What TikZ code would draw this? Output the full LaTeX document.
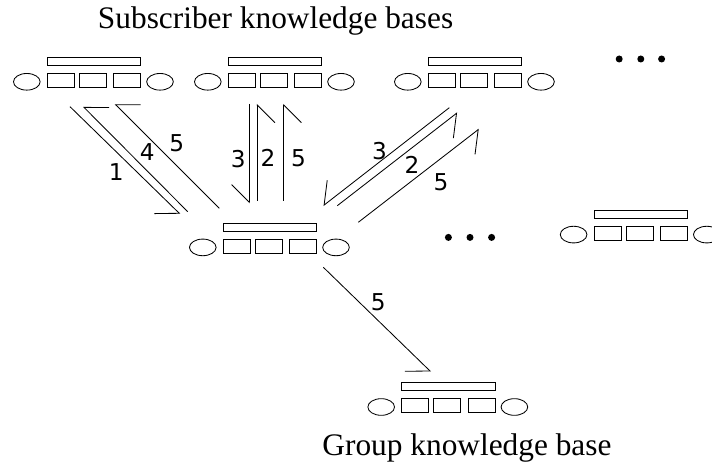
\documentclass[tikz,border=0pt]{standalone}
\usepackage{fontspec}
\usepackage{tikz}
\usetikzlibrary{arrows.meta}
\usetikzlibrary{shapes.geometric}
\newfontfamily\titlefont{Liberation Serif}
\newfontfamily\digitfont{DejaVu Sans}
\tikzset{every edge/.style={draw}}
\tikzset{
  kbbar/.style={draw, minimum width=2.335cm, minimum height=0.2cm, inner sep=0pt},
  kbslot/.style={draw, minimum width=0.675cm, minimum height=0.35cm, inner sep=0pt},
  kbcap/.style={draw, ellipse, minimum width=0.666cm, minimum height=0.416cm, inner sep=0pt},
  msg/.style={-{Straight Barb[right, angle=90:0.625cm]}},
  num/.style={font=\digitfont\fontsize{16.5}{19}\selectfont, inner sep=1.5pt},
  caption/.style={font=\titlefont\fontsize{22.3}{26}\selectfont, anchor=base, inner sep=0pt},
  dot/.style={circle, fill, inner sep=0pt, minimum size=0.175cm},
  kbase/.pic={
    \node[kbbar] (-bar) at (0,0) {};
    \foreach \i/\x in {1/-0.834, 2/-0.03, 3/0.834}
      \node[kbslot] (-slot\i) at (\x,-0.475) {};
    \node[kbcap] (-capl) at (-1.68,-0.51) {};
    \node[kbcap] (-capr) at (1.65,-0.51) {};
  }
}

\begin{document}
\begin{tikzpicture}[line width=0.6pt]
    \path[use as bounding box] (0, 0) rectangle (17.8, 11.625);

    % knowledge bases
    \pic (kbA) at (2.35, 10.09) {kbase};
    \pic (kbB) at (6.875, 10.09) {kbase};
    \pic (kbC) at (11.875, 10.09) {kbase};
    \pic (kbM) at (6.75, 5.95) {kbase};
    \pic (kbR) at (16.02, 6.27) {kbase};
    \pic (kbG) at (11.21, 1.96) {kbase};

    \node[caption] (subs) at (6.89, 10.92) {Subscriber knowledge bases};
    \node[caption] (group) at (11.675, 0.25) {Group knowledge base};

    \foreach \n/\x in {1/15.48, 2/16.02, 3/16.54}
      \node[dot] (top\n) at (\x, 10.15) {};
    \foreach \n/\x in {1/11.21, 2/11.75, 3/12.29}
      \node[dot] (mid\n) at (\x, 5.69) {};

    % message ends
    \coordinate (u1) at (1.75, 8.958);   \coordinate (v1) at (4.5, 6.275);
    \coordinate (u4) at (4.693, 6.333);  \coordinate (v4) at (2.083, 8.958);
    \coordinate (u5a) at (5.483, 6.418); \coordinate (v5a) at (2.875, 9.025);
    \coordinate (u3a) at (6.233, 9.025); \coordinate (v3a) at (6.233, 6.543);
    \coordinate (u2a) at (6.433, 6.608); \coordinate (v2a) at (6.433, 9.025);
    \coordinate (u5b) at (7.093, 6.608); \coordinate (v5b) at (7.093, 9.025);
    \coordinate (u3b) at (11.233, 8.933); \coordinate (v3b) at (8.083, 6.483);
    \coordinate (u2b) at (8.433, 6.483); \coordinate (v2b) at (11.433, 8.808);
    \coordinate (u5c) at (8.958, 6.068); \coordinate (v5c) at (11.975, 8.4);
    \coordinate (u5d) at (8.083, 4.943); \coordinate (v5d) at (10.768, 2.333);

    \draw (u1) edge[msg] node[num, pos=0.51, below left=0mm] {1} (v1);
    \draw (u4) edge[msg] node[num, pos=0.47, above right=-0.3mm] {4} (v4);
    \draw (u5a) edge[msg] node[num, pos=0.51, above right=0.2mm] {5} (v5a);
    \draw (u3a) edge[msg] node[num, pos=0.55, left=0.3mm] {3} (v3a);
    \draw (u2a) edge[msg] node[num, pos=0.44, right=0.2mm] {2} (v2a);
    \draw (u5b) edge[msg] node[num, pos=0.44, right=1.2mm] {5} (v5b);
    \draw (u3b) edge[msg] node[num, pos=0.51, above left=-1.1mm] {3} (v3b);
    \draw (u2b) edge[msg] node[num, pos=0.55, below right=-0.3mm] {2} (v2b);
    \draw (u5c) edge[msg] node[num, pos=0.58, below right=0.7mm] {5} (v5c);
    \draw (u5d) edge[msg] node[num, pos=0.43, above right=-0.3mm] {5} (v5d);
\end{tikzpicture}
\end{document}
